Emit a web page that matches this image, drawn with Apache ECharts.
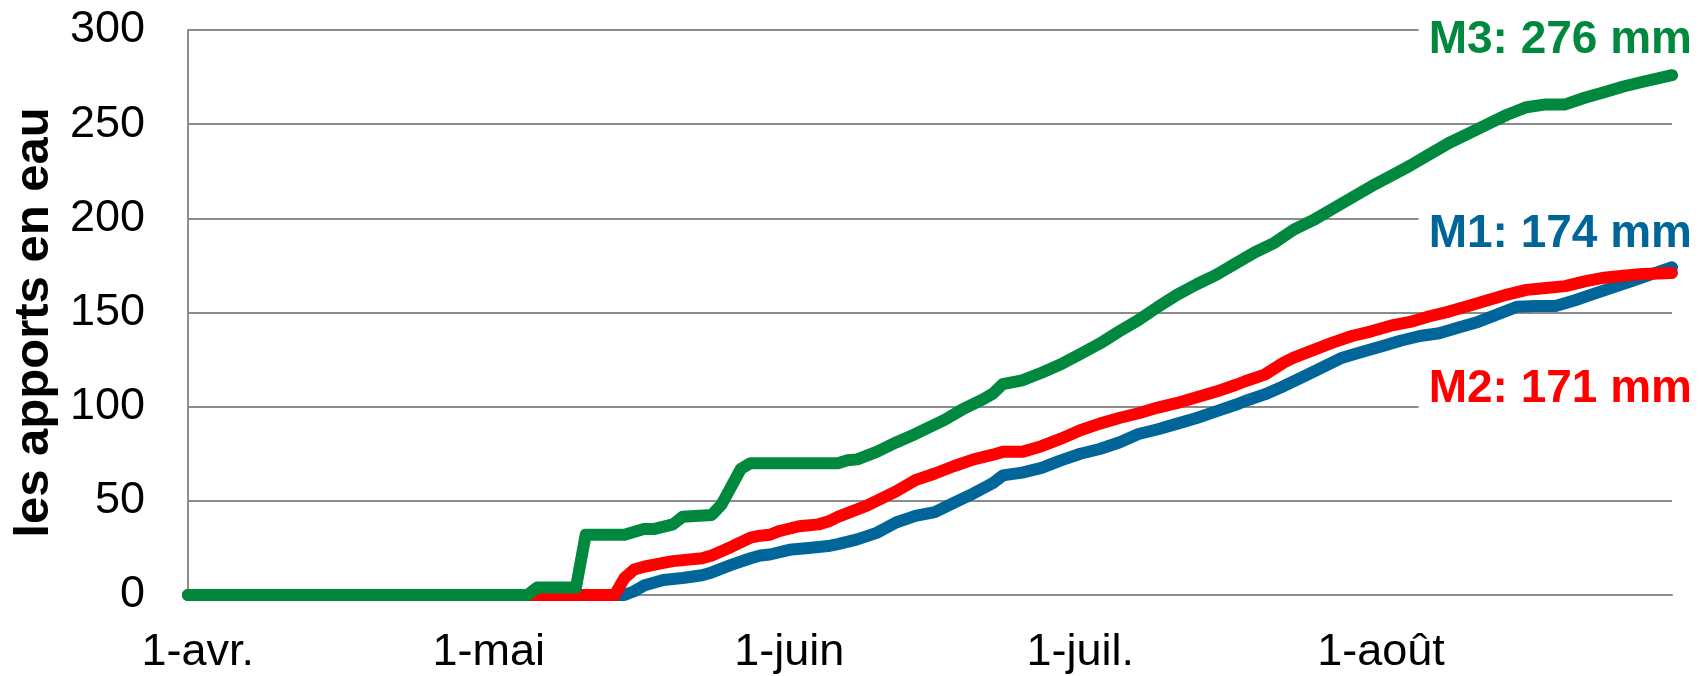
<!DOCTYPE html>
<html>
<head>
<meta charset="utf-8">
<script src="https://cdn.jsdelivr.net/npm/echarts@6/dist/echarts.min.js"></script>
<style>
  html, body { margin: 0; padding: 0; background: #fff; }
  #chart { width: 1701px; height: 676px; }
</style>
</head>
<body>
<div id="chart"></div>
<script>
// ---- data ----
// months covered by the category axis (day categories from 31-mars to 31-août)
const monthNames = ['mars', 'avr.', 'mai', 'juin', 'juil.', 'août'];
const monthLengths = [31, 30, 31, 30, 31, 31];
const firstDayOfAxis = 31; // axis starts on 31-mars

const tickLabels = ['1-avr.', '1-mai', '1-juin', '1-juil.', '1-août'];
const yTicks = [0, 50, 100, 150, 200, 250, 300];
const yTitle = 'les apports en eau';

const seriesNames = ['M1', 'M2', 'M3'];
const seriesColors = ['#006699', '#FF0000', '#00893E'];

// cumulative water supply, [day index since 31-mars, mm]
const m1Values = [[0,0],[45,0],[46,2],[47,5],[49,8],[51,9],[53,10.5],[54,12],[56,16],[58,19.5],[59,21],[60,21.5],[62,24],[64,25],[66,26],[67,27],[69,29.5],[71,33],[73,38.5],[75,42],[77,44],[79,49],[81,54],[83,59.5],[84,63.5],[86,65],[88,67.5],[90,71.5],[92,75],[94,77.5],[96,81],[98,85.5],[100,88],[102,91],[104,94],[106,97.5],[108,101],[109,103],[111,106.5],[113,111],[115,116],[117,121],[119,126],[121,129],[123,132],[125,135],[127,137.5],[129,139],[131,142],[133,145],[135,149],[137,153],[139,153.5],[141,153.5],[143,156.5],[145,160],[147,163.5],[149,167],[151,170.5],[153,174]];
const m2Values = [[0,0],[44,0],[45,9],[46,13.5],[47,15],[49,17],[50,18],[53,19.5],[54,21],[56,25.5],[58,30.5],[59,31.5],[60,32],[61,34],[63,36.5],[65,37.5],[66,39],[67,41.5],[70,47.5],[73,55],[75,61],[77,64.5],[79,68.5],[81,72],[83,74.5],[84,76],[86,76],[88,79],[90,83],[92,87.5],[94,91],[96,94],[98,96.5],[100,99.5],[102,102],[104,105],[106,108],[108,111.5],[109,113.5],[111,117],[113,123.5],[114,126],[116,130],[118,134],[120,137.5],[122,140],[124,143],[126,145],[128,148],[130,150.5],[132,153.5],[134,156.5],[136,159.5],[138,162],[140,163],[142,164],[144,166.5],[146,168.5],[148,169.5],[150,170.5],[153,171]];
const m3Values = [[0,0],[35,0],[36,4],[40,4],[41,32],[45,32],[47,35],[48,35],[50,37.5],[51,41.5],[54,42.5],[55,48],[57,67],[58,70],[67,70],[68,71.5],[69,72],[71,76],[73,81],[75,85.5],[78,93],[80,99],[82,104],[83,107],[84,112],[86,114],[88,118],[90,122.5],[92,128],[94,133.5],[96,140],[98,146],[100,153],[102,159.5],[104,165],[106,170],[108,176],[110,182],[112,187],[114,194],[116,199],[118,205],[120,211],[122,217],[124,222.5],[126,228],[128,234],[130,240],[132,245],[134,250],[136,255],[138,259],[140,260.5],[142,260.5],[144,264],[146,267],[148,270],[150,272.5],[153,276]];
const allValues = [m1Values, m2Values, m3Values];

// ---- build ----
const categories = [];
monthNames.forEach((m, mi) => {
  const start = mi === 0 ? firstDayOfAxis : 1;
  for (let d = start; d <= monthLengths[mi]; d++) categories.push(d + '-' + m);
});

const FONT = '"Liberation Sans", Arial, sans-serif';
const chart = echarts.init(document.getElementById('chart'), null, { renderer: 'canvas' });

const labelY = [234, 389, 40];
const graphics = seriesNames.map((n, i) => {
  const vals = allValues[i];
  const total = vals[vals.length - 1][1];
  return {
    type: 'text',
    z: 100,
    style: {
      text: n + ': ' + total + ' mm',
      x: 1692, y: labelY[i],
      align: 'right', verticalAlign: 'middle',
      fill: seriesColors[i],
      font: 'bold 46px ' + FONT,
      backgroundColor: '#ffffff',
      padding: [3, 0, 3, 10]
    }
  };
});

chart.setOption({
  animation: false,
  backgroundColor: '#ffffff',
  textStyle: { fontFamily: FONT },
  grid: { left: 188, right: 29, top: 30, bottom: 81, containLabel: false },
  xAxis: {
    type: 'category',
    data: categories,
    boundaryGap: false,
    axisLine: { show: true, lineStyle: { color: '#8C8C8C', width: 2 } },
    axisTick: { show: false },
    splitLine: { show: false },
    axisLabel: {
      interval: (idx, val) => tickLabels.indexOf(val) >= 0,
      formatter: v => v,
      color: '#000',
      fontSize: 45,
      fontFamily: FONT,
      margin: 35
    }
  },
  yAxis: {
    type: 'value',
    min: yTicks[0], max: yTicks[yTicks.length - 1], interval: 50,
    name: yTitle,
    nameLocation: 'middle',
    nameGap: 114,
    nameRotate: 90,
    nameTextStyle: { fontSize: 49, fontWeight: 'bold', color: '#000', fontFamily: FONT, padding: [0, 20, 0, 0] },
    axisLine: { show: true, lineStyle: { color: '#8C8C8C', width: 2 } },
    axisTick: { show: false },
    splitLine: { show: true, lineStyle: { color: '#8C8C8C', width: 2 } },
    axisLabel: { color: '#000', fontSize: 45, fontFamily: FONT, margin: 43 }
  },
  series: seriesNames.map((n, i) => ({
    name: n,
    type: 'line',
    data: allValues[i],
    symbol: 'none',
    z: 2 + i,
    lineStyle: { color: seriesColors[i], width: 12, cap: 'round', join: 'round' },
    itemStyle: { color: seriesColors[i] }
  })),
  graphic: graphics
});
</script>
</body>
</html>
